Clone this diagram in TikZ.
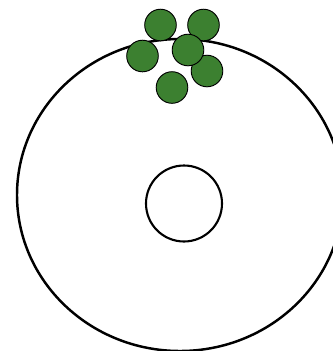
\documentclass[tikz,border=0pt]{standalone}
\usepackage{tikz}
\definecolor{ballgreen}{RGB}{60,128,48}
\tikzset{ball/.style={draw=black,fill=ballgreen,line width=0.8pt}}

\begin{document}
\begin{tikzpicture}[x=0.03cm,y=-0.03cm]
\clip (0,0) rectangle (333,351);
\useasboundingbox (0,0) rectangle (333,351);
\draw[line width=2.1pt] (180,195) ellipse [x radius=163,y radius=156];
\draw[line width=1.8pt] (184,203.5) circle [radius=38];
\draw[ball] (160.5,25) circle [radius=15.8];
\draw[ball] (203.5,25) circle [radius=15.8];
\draw[ball] (142.5,56) circle [radius=15.8];
\draw[ball] (207,71) circle [radius=15.8];
\draw[ball] (188,50) circle [radius=15.8];
\draw[ball] (172,87.5) circle [radius=15.8];
\end{tikzpicture}
\end{document}
